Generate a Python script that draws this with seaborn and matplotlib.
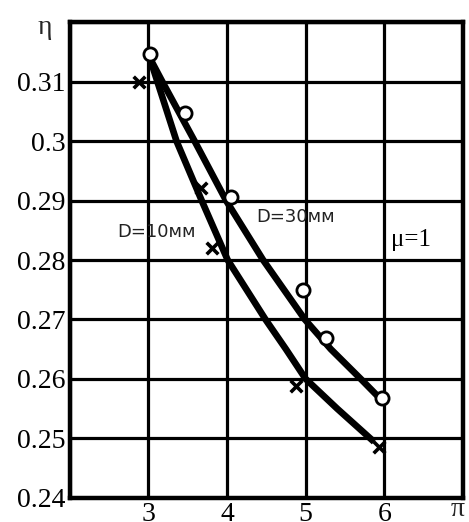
import matplotlib
matplotlib.use("Agg")
import matplotlib.pyplot as plt
import seaborn as sns
import pandas as pd

# Data
curve30_x = [3.02, 3.18, 3.59, 3.99, 4.46, 4.99, 5.32, 5.70, 5.93]
curve30_y = [0.3140, 0.3100, 0.3000, 0.2900, 0.2800, 0.2700, 0.2650, 0.2600, 0.2569]
curve10_x = [3.02, 3.36, 3.68, 4.01, 4.49, 4.75, 5.00, 5.40, 5.82, 5.87]
curve10_y = [0.3140, 0.3000, 0.2900, 0.2800, 0.2700, 0.2650, 0.2600, 0.2550, 0.2500, 0.2494]

circles_x = [3.02, 3.47, 4.05, 4.97, 5.26, 5.97]
circles_y = [0.3147, 0.3047, 0.2906, 0.2749, 0.2668, 0.2567]
crosses_x = [2.88, 3.67, 3.81, 4.88, 5.93]
crosses_y = [0.3100, 0.2921, 0.2820, 0.2588, 0.2485]

x_grid = [2, 3, 4, 5, 6, 7]
x_tick_labels = ["", "3", "4", "5", "6", ""]
y_grid = [0.24, 0.25, 0.26, 0.27, 0.28, 0.29, 0.30, 0.31, 0.32]
y_tick_labels = ["0.24", "0.25", "0.26", "0.27", "0.28", "0.29", "0.3", "0.31", ""]

sns.set_style("white")
plt.rcParams["font.family"] = ["DejaVu Sans"]

fig = plt.figure(figsize=(4.69, 5.22), dpi=100)
ax = fig.add_axes([69.5 / 469, 1 - 497.7 / 522, (463 - 69.5) / 469, (497.7 - 22.3) / 522])

df30 = pd.DataFrame({"x": curve30_x, "y": curve30_y})
df10 = pd.DataFrame({"x": curve10_x, "y": curve10_y})
for d in (df30, df10):
    sns.lineplot(data=d, x="x", y="y", sort=False, color="black", linewidth=4.8, ax=ax,
                 solid_capstyle="butt", solid_joinstyle="round", zorder=3)

sns.scatterplot(x=circles_x, y=circles_y, marker="o", s=90, facecolor="white",
                edgecolor="black", linewidth=2.0, ax=ax, zorder=5)
sns.scatterplot(x=crosses_x, y=crosses_y, marker="x", s=70, color="black",
                linewidth=2.6, ax=ax, zorder=5)

ax.set_xlim(2, 7)
ax.set_ylim(0.24, 0.32)
ax.set_xticks(x_grid)
ax.set_xticklabels(x_tick_labels, family="Liberation Serif", fontsize=20)
ax.set_yticks(y_grid)
ax.set_yticklabels(y_tick_labels, family="Liberation Serif", fontsize=20)
ax.tick_params(axis="both", length=0, pad=3, colors="black")
ax.grid(True, color="black", linewidth=2.3)
ax.set_axisbelow(True)
for sp in ax.spines.values():
    sp.set_visible(True)
    sp.set_color("black")
    sp.set_linewidth(3.2)
ax.set_xlabel("")
ax.set_ylabel("")

ax.text(3.10, 0.2847, "D=10мм", ha="center", va="center", fontsize=13,
        family="DejaVu Sans", color="#222222", zorder=4)
ax.text(4.87, 0.2873, "D=30мм", ha="center", va="center", fontsize=13,
        family="DejaVu Sans", color="#222222", zorder=4)
ax.text(6.34, 0.2834, "μ=1", ha="center", va="center", fontsize=18,
        family="Liberation Serif", color="black", zorder=4)

fig.text(45 / 469, 1 - 27 / 522, "η", ha="center", va="center", fontsize=20,
         family="Liberation Serif")
fig.text(458 / 469, 1 - 510 / 522, "π", ha="center", va="center", fontsize=20,
         family="Liberation Serif")

fig.savefig("out.png", dpi=100, facecolor="white")
